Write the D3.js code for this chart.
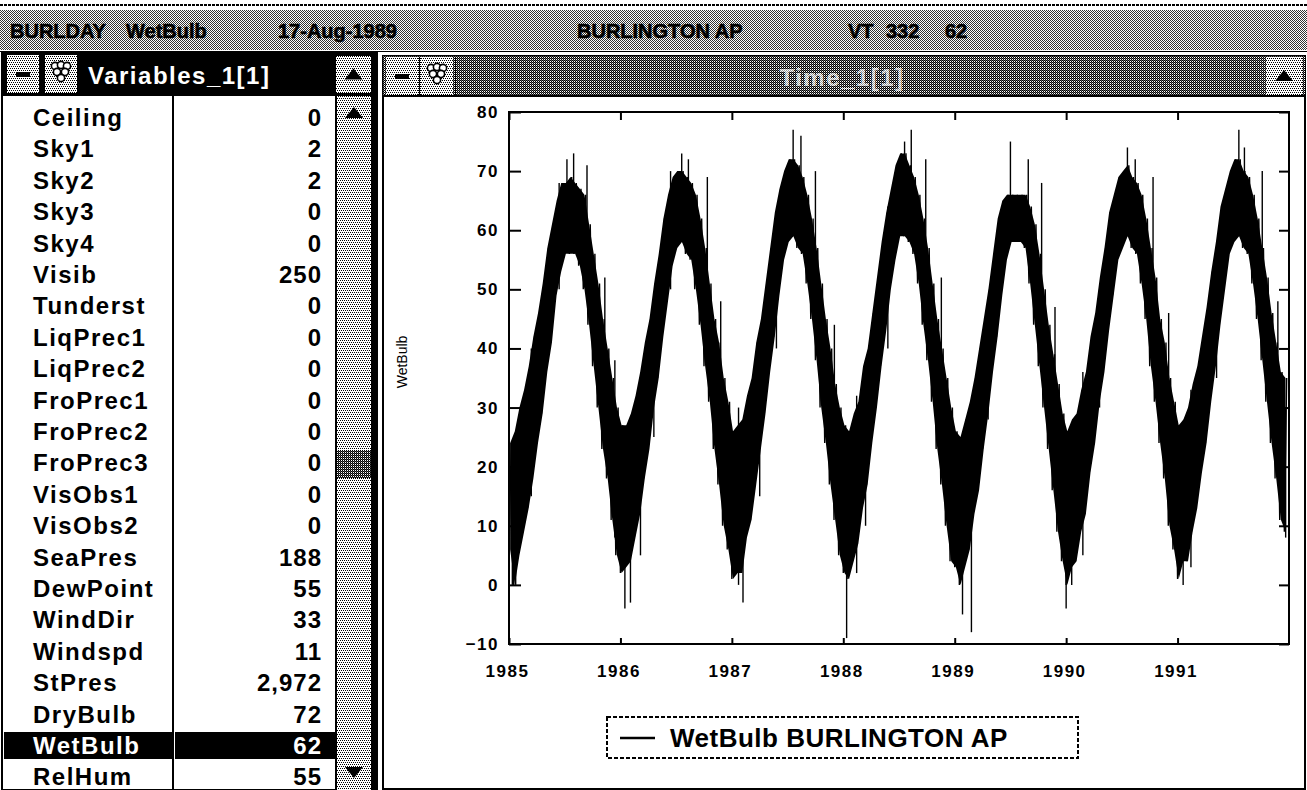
<!DOCTYPE html>
<html><head><meta charset="utf-8">
<script src="https://cdn.jsdelivr.net/npm/d3@7"></script>
<style>
html,body{margin:0;padding:0;background:#fff;}
svg{display:block;}
text{font-family:"Liberation Sans",Arial,sans-serif;}
</style></head><body>
<svg id="c" width="1307" height="790"></svg>
<script>
// ---------------- DATA ----------------
const headerItems = [
  {label:"BURLDAY", x:10}, {label:"WetBulb", x:126}, {label:"17-Aug-1989", x:278},
  {label:"BURLINGTON AP", x:577}, {label:"VT", x:848}, {label:"332", x:886}, {label:"62", x:945}
];
const variableNames = ["Ceiling","Sky1","Sky2","Sky3","Sky4","Visib","Tunderst","LiqPrec1","LiqPrec2",
  "FroPrec1","FroPrec2","FroPrec3","VisObs1","VisObs2","SeaPres","DewPoint","WindDir","Windspd",
  "StPres","DryBulb","WetBulb","RelHum"];
const variableValues = ["0","2","2","0","0","250","0","0","0","0","0","0","0","0","188","55","33","11",
  "2,972","72","62","55"];
const selectedVariable = "WetBulb";
const yearTicks = [1985,1986,1987,1988,1989,1990,1991];
const valueTicks = [-10,0,10,20,30,40,50,60,70,80];
// half-monthly low / high envelope of the hourly WetBulb trace, 1985-1991 (24 per year)
const wetBulbLow = [
  6,0,5,9,13,18,24,29,36,41,49,53,56,56,56,54,50,44,37,30,23,18,11,5,
  2,3,4,8,12,18,23,30,35,42,48,54,57,58,56,55,50,44,37,31,23,17,10,6,
  1,2,2,8,11,17,23,29,36,42,49,55,58,59,57,56,51,45,38,30,24,17,11,5,
  2,1,4,7,13,17,24,30,37,43,50,55,59,59,58,56,51,44,38,31,23,17,10,4,
  3,0,3,6,12,16,23,29,36,42,49,55,58,58,58,57,51,44,37,30,23,16,9,4,
  0,3,4,9,12,19,24,31,36,43,49,55,57,59,57,56,51,45,37,31,24,18,10,6,
  1,4,4,9,13,19,24,31,37,44,50,56,58,59,57,56,51,45,38,31,24,18,11,9
];
const wetBulbHigh = [
  24,26,30,33,37,42,46,51,57,61,65,68,68,69,68,67,66,61,56,51,45,40,35,30,
  27,27,29,32,36,41,45,51,56,62,66,69,70,70,69,68,66,62,57,51,45,41,35,31,
  26,27,28,32,35,41,45,51,57,63,67,70,72,72,71,69,66,62,57,51,45,40,34,30,
  27,26,29,31,37,40,46,52,58,63,67,71,73,73,71,69,66,62,57,51,45,40,35,30,
  26,25,28,31,35,40,45,50,56,62,65,66,66,66,66,66,64,61,56,50,44,39,34,29,
  26,28,29,33,36,42,46,52,57,63,66,69,70,71,69,68,66,62,57,52,45,41,35,31,
  27,28,30,34,37,42,47,53,58,64,67,70,72,72,70,69,66,62,57,52,46,41,36,35
];
// isolated extreme readings: [decimal year, low, high]
const wetBulbSpikes = [
  [1985.03,0,20],[1985.06,0,22],[1985.20,15,40],[1985.45,50,68],[1985.52,60,72],[1985.58,60,73],
  [1985.70,55,71],[1985.86,30,52],[1985.95,8,38],
  [1986.04,-4,20],[1986.09,-3,20],[1986.18,5,35],[1986.30,25,48],[1986.45,50,70],[1986.55,60,73],
  [1986.61,60,72],[1986.78,50,69],[1986.90,25,48],
  [1987.06,0,30],[1987.10,-3,20],[1987.25,15,42],[1987.40,40,62],[1987.55,62,77],[1987.62,62,76],
  [1987.75,52,70],[1987.92,20,44],
  [1988.03,-9,20],[1988.12,2,32],[1988.20,10,38],[1988.40,40,64],[1988.55,62,75],[1988.61,62,77],
  [1988.74,52,72],[1988.88,30,52],
  [1989.07,-5,20],[1989.15,-8,20],[1989.30,28,48],[1989.50,62,75],[1989.66,60,72],[1989.78,50,68],
  [1989.90,25,47],
  [1990.00,-4,20],[1990.05,0,20],[1990.15,5,36],[1990.30,30,50],[1990.55,62,74],[1990.62,62,72],
  [1990.78,50,69],[1990.92,20,46],
  [1991.05,0,20],[1991.12,3,33],[1991.35,35,57],[1991.55,62,77],[1991.60,62,74],[1991.76,50,70],
  [1991.90,22,48],[1991.97,8,30]
];
const legendLabel = "WetBulb BURLINGTON AP";
const axisTitle = "WetBulb";
const leftTitle = "Variables_1[1]";
const rightTitle = "Time_1[1]";

// ---------------- DRAW ----------------
const svg = d3.select("#c");
svg.append("rect").attr("width",1307).attr("height",790).attr("fill","#fff");
const defs = svg.append("defs");
function pattern(id, w, h, px, bg){
  const p = defs.append("pattern").attr("id",id).attr("patternUnits","userSpaceOnUse")
    .attr("width",w).attr("height",h);
  p.append("rect").attr("width",w).attr("height",h).attr("fill",bg||"#fff");
  px.forEach(([x,y,c])=>p.append("rect").attr("x",x).attr("y",y).attr("width",1).attr("height",1)
    .attr("fill",c||"#000").attr("shape-rendering","crispEdges"));
}
pattern("mid",2,2,[[0,0,"#333"],[1,1,"#333"]]);
pattern("light",4,4,[[0,0],[2,0],[1,2],[3,2]]);
pattern("dark",2,2,[[0,0],[1,1],[1,0,"#666"]]);
pattern("thumb",2,2,[[0,0],[1,1],[0,1,"#444"]]);
pattern("ttl",2,2,[[0,0,"#999"],[1,1,"#999"]]);

const crisp = sel => sel.attr("shape-rendering","crispEdges");

// top status bar
svg.append("line").attr("x1",0).attr("x2",1307).attr("y1",5).attr("y2",5)
  .attr("stroke","#000").attr("stroke-width",2).attr("stroke-dasharray","3,1").call(crisp);
svg.append("rect").attr("x",0).attr("y",10).attr("width",1307).attr("height",40).attr("fill","url(#mid)").call(crisp);
svg.append("line").attr("x1",0).attr("x2",1307).attr("y1",51).attr("y2",51).attr("stroke","#000").attr("stroke-width",1).call(crisp);
svg.selectAll("text.hdr").data(headerItems).join("text").attr("class","hdr")
  .attr("x",d=>d.x).attr("y",38).attr("font-size",20).attr("font-weight","bold")
  .attr("fill","#000").attr("stroke","#000").attr("stroke-width",0.6).text(d=>d.label);

// ---------- left window ----------
const L = {x0:2, x1:377, top:52, titleB:96, colDiv:173, valRight:322, sb0:336, sb1:371};
svg.append("rect").attr("x",L.x0).attr("y",L.top).attr("width",L.x1-L.x0).attr("height",790-L.top)
  .attr("fill","#fff").attr("stroke","#000").attr("stroke-width",2).call(crisp);
svg.append("rect").attr("x",L.x0).attr("y",L.top).attr("width",L.x1-L.x0).attr("height",L.titleB-L.top)
  .attr("fill","#000").call(crisp);
function button(x,y,w,h,fill){
  svg.append("rect").attr("x",x).attr("y",y).attr("width",w).attr("height",h).attr("fill",fill||"url(#light)").call(crisp);
}
function minusBtn(x,y){ button(x,y,32,38); svg.append("rect").attr("x",x+9).attr("y",y+17).attr("width",14).attr("height",5).attr("fill","#000").call(crisp);}
function grapeBtn(x,y){ button(x,y,32,38);
  const g = svg.append("g").attr("transform",`translate(${x+16},${y+19})`);
  [[-6,-8],[0,-9],[6,-8],[-4,-2],[4,-2],[0,4]].forEach(([cx,cy])=>g.append("circle").attr("cx",cx).attr("cy",cy).attr("r",3.6).attr("fill","#fff").attr("stroke","#000").attr("stroke-width",1.6));
}
function upBtn(x,y,w,h){ button(x,y,w,h);
  svg.append("path").attr("d",`M${x+w/2},${y+h/2-6} L${x+w/2+9},${y+h/2+5} L${x+w/2-9},${y+h/2+5} Z`).attr("fill","#000");
}
function downBtn(x,y,w,h){ button(x,y,w,h);
  svg.append("path").attr("d",`M${x+w/2},${y+h/2+6} L${x+w/2+9},${y+h/2-5} L${x+w/2-9},${y+h/2-5} Z`).attr("fill","#000");
}
minusBtn(7,55); grapeBtn(45,55);
upBtn(336,56,35,37);
svg.append("text").attr("x",88).attr("y",84).attr("font-size",24).attr("font-weight","bold")
  .attr("letter-spacing",1.5).attr("fill","#fff").text(leftTitle);
svg.append("line").attr("x1",L.colDiv).attr("x2",L.colDiv).attr("y1",L.titleB).attr("y2",790).attr("stroke","#000").attr("stroke-width",2).call(crisp);
svg.append("line").attr("x1",L.sb0).attr("x2",L.sb0).attr("y1",L.titleB).attr("y2",790).attr("stroke","#000").attr("stroke-width",1.5).call(crisp);
svg.append("rect").attr("x",L.sb0+1).attr("y",L.titleB).attr("width",L.sb1-L.sb0-1).attr("height",790-L.titleB).attr("fill","url(#light)").call(crisp);
upBtn(337,98,34,30);
svg.append("rect").attr("x",337).attr("y",450).attr("width",34).attr("height",28).attr("fill","url(#thumb)").call(crisp);
downBtn(337,757,34,30);
svg.append("rect").attr("x",371).attr("y",L.top).attr("width",6).attr("height",790-L.top).attr("fill","#000").call(crisp);

const rowY = d3.scalePoint().domain(variableNames).range([117.5, 117.5+31.4*(variableNames.length-1)]);
const rows = svg.append("g");
variableNames.forEach((name,i)=>{
  const cy = rowY(name), sel = name===selectedVariable;
  if(sel){
    rows.append("rect").attr("x",4).attr("y",cy-14).attr("width",L.colDiv-5).attr("height",27).attr("fill","#000").call(crisp);
    rows.append("rect").attr("x",L.colDiv+2).attr("y",cy-14).attr("width",L.sb0-L.colDiv-3).attr("height",27).attr("fill","#000").call(crisp);
  }
  rows.append("text").attr("x",33).attr("y",cy+8.5).attr("font-size",24).attr("font-weight","bold")
    .attr("letter-spacing",1.5).attr("fill",sel?"#fff":"#000").text(name);
  rows.append("text").attr("x",L.valRight).attr("y",cy+8.5).attr("font-size",24).attr("font-weight","bold")
    .attr("text-anchor","end").attr("letter-spacing",1).attr("fill",sel?"#fff":"#000").text(variableValues[i]);
});

// ---------- right window ----------
const R = {x0:383, x1:1305, top:56, titleB:96};
svg.append("rect").attr("x",R.x0).attr("y",R.top).attr("width",R.x1-R.x0).attr("height",789-R.top)
  .attr("fill","#fff").attr("stroke","#000").attr("stroke-width",2).call(crisp);
svg.append("rect").attr("x",R.x0).attr("y",R.top).attr("width",R.x1-R.x0).attr("height",R.titleB-R.top).attr("fill","url(#dark)").call(crisp);
minusBtn(386,57); grapeBtn(421,57);
svg.append("line").attr("x1",419).attr("x2",419).attr("y1",57).attr("y2",95).attr("stroke","#000").call(crisp);
svg.append("line").attr("x1",455).attr("x2",455).attr("y1",57).attr("y2",95).attr("stroke","#000").call(crisp);
upBtn(1266,57,36,38);
svg.append("line").attr("x1",R.x0).attr("x2",R.x1).attr("y1",R.titleB).attr("y2",R.titleB).attr("stroke","#000").attr("stroke-width",2).call(crisp);
svg.append("text").attr("x",842).attr("y",86).attr("text-anchor","middle").attr("font-size",24).attr("font-weight","bold")
  .attr("letter-spacing",1.5).attr("fill","url(#ttl)").text(rightTitle);

// plot
const P = {l:509, r:1289, t:112, b:644};
const x = d3.scaleLinear().domain([1985,1992]).range([P.l,P.r]);
const y = d3.scaleLinear().domain([-10,80]).range([P.b,P.t]);

const series = [];
wetBulbLow.forEach((lo,i)=>{
  const t = 1985 + i/24;
  series.push([t, lo]);
  series.push([t+1/48, wetBulbHigh[i]]);
});
const band = wetBulbLow.map((lo,i)=>({t:1985+i/24+1/96, lo, hi:wetBulbHigh[i]}));
const plot = svg.append("g");
plot.append("path").datum(band)
  .attr("d",d3.area().x(d=>x(d.t)).y0(d=>y(d.lo)).y1(d=>y(d.hi)))
  .attr("fill","#000");
const line = d3.line().x(d=>x(d[0])).y(d=>y(d[1]));
plot.append("path").datum(series).attr("d",line).attr("fill","none").attr("stroke","#000").attr("stroke-width",1.4);
plot.selectAll("path.spike").data(wetBulbSpikes).join("path").attr("class","spike")
  .attr("d",d=>line([[d[0],d[1]],[d[0],d[2]]])).attr("stroke","#000").attr("stroke-width",1.4);

plot.append("rect").attr("x",P.l).attr("y",P.t).attr("width",P.r-P.l).attr("height",P.b-P.t)
  .attr("fill","none").attr("stroke","#000").attr("stroke-width",2).call(crisp);

const axFont = g => g.selectAll("text").attr("font-size",17).attr("font-weight","bold").attr("letter-spacing",1.5)
  .attr("font-family","'Liberation Sans',Arial,sans-serif").attr("fill","#000");
svg.append("g").attr("transform",`translate(${P.l},0)`)
  .call(d3.axisLeft(y).tickValues(valueTicks).tickSizeInner(-12).tickSizeOuter(0).tickPadding(10))
  .call(g=>g.select(".domain").remove()).call(axFont)
  .call(g=>g.selectAll("line").attr("stroke-width",2));
svg.append("g").attr("transform",`translate(${P.r},0)`)
  .call(d3.axisRight(y).tickValues(valueTicks).tickSizeInner(-10).tickSizeOuter(0).tickFormat(""))
  .call(g=>g.select(".domain").remove()).call(g=>g.selectAll("line").attr("stroke-width",2));
svg.append("g").attr("transform",`translate(0,${P.b})`)
  .call(d3.axisBottom(x).tickValues(yearTicks).tickFormat(d3.format("d")).tickSizeInner(-6).tickSizeOuter(0).tickPadding(21))
  .call(g=>g.select(".domain").remove()).call(axFont)
  .call(g=>g.selectAll("text").attr("dx",-2))
  .call(g=>g.selectAll("line").attr("stroke-width",2));
svg.append("g").attr("transform",`translate(0,${P.t})`)
  .call(d3.axisTop(x).tickValues(yearTicks).tickSizeInner(-8).tickSizeOuter(0).tickFormat(""))
  .call(g=>g.select(".domain").remove()).call(g=>g.selectAll("line").attr("stroke-width",2));

svg.append("text").attr("transform",`translate(407,362) rotate(-90)`).attr("text-anchor","middle")
  .attr("font-size",14).attr("fill","#000").text(axisTitle);

// legend
const lg = svg.append("g");
lg.append("rect").attr("x",607).attr("y",717).attr("width",471).attr("height",41)
  .attr("fill","none").attr("stroke","#000").attr("stroke-width",1.5).attr("stroke-dasharray","4,2").call(crisp);
lg.append("line").attr("x1",620).attr("x2",655).attr("y1",738).attr("y2",738).attr("stroke","#000").attr("stroke-width",2.5);
lg.append("text").attr("x",670).attr("y",747).attr("font-size",26).attr("font-weight","bold")
  .attr("letter-spacing",0.5).attr("fill","#000").text(legendLabel);
</script>
</body></html>
